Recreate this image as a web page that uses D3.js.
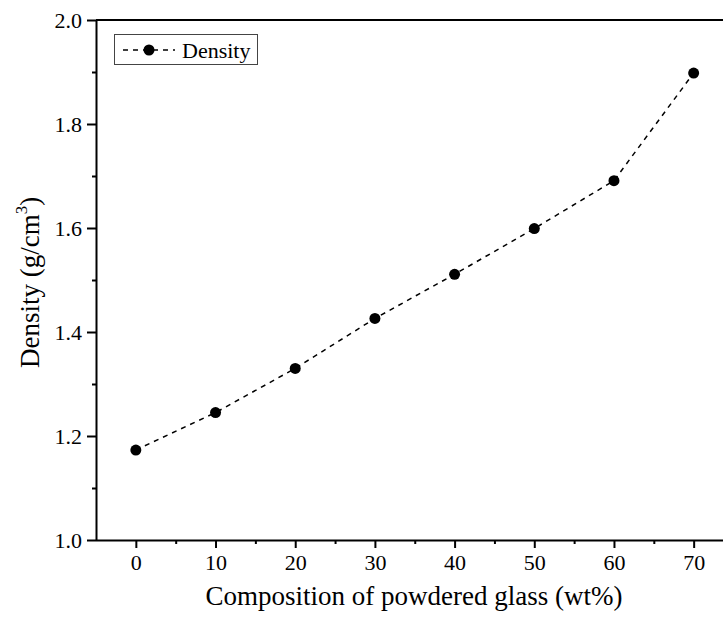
<!DOCTYPE html>
<html>
<head>
<meta charset="utf-8">
<script src="https://cdn.jsdelivr.net/npm/d3@7"></script>
<style>
  html, body { margin: 0; padding: 0; background: #fff; }
  svg, svg text { font-family: "Liberation Serif", Tinos, "Times New Roman", Times, "DejaVu Serif", serif !important; }
</style>
</head>
<body>
<svg id="chart" width="723" height="624"></svg>
<script>
// ---- data ----
const composition = [0, 10, 20, 30, 40, 50, 60, 70];
const density = [1.173, 1.245, 1.330, 1.426, 1.511, 1.599, 1.691, 1.898];
const xMajorTicks = [0, 10, 20, 30, 40, 50, 60, 70];
const xMinorTicks = [5, 15, 25, 35, 45, 55, 65];
const yMajorTicks = [1.0, 1.2, 1.4, 1.6, 1.8, 2.0];
const yMinorTicks = [1.1, 1.3, 1.5, 1.7, 1.9];
const xTitle = "Composition of powdered glass (wt%)";
const yTitle = "Density (g/cm";
const legendLabel = "Density";

const FONT = '"Liberation Serif", Tinos, "Times New Roman", Times, "DejaVu Serif", serif';
const svg = d3.select("#chart").attr("font-family", FONT);
const W = 723, H = 624;
const mLeft = 96, mTop = 20, mBottom = 540;

const x = d3.scaleLinear().domain([-5, 75]).range([mLeft, 733.5]);
const y = d3.scaleLinear().domain([1.0, 2.0]).range([mBottom, mTop]);

// frame top line
svg.append("line")
  .attr("x1", mLeft).attr("x2", W).attr("y1", mTop).attr("y2", mTop)
  .attr("stroke", "#000").attr("stroke-width", 2);

// x axis
const gx = svg.append("g").attr("transform", `translate(0,${mBottom})`);
gx.call(d3.axisBottom(x).tickValues(xMajorTicks).tickSize(8).tickPadding(6).tickFormat(d3.format("d")));
const gxm = svg.append("g").attr("transform", `translate(0,${mBottom})`);
gxm.call(d3.axisBottom(x).tickValues(xMinorTicks).tickSize(4).tickFormat(""));

// y axis
const gy = svg.append("g").attr("transform", `translate(${mLeft},0)`);
gy.call(d3.axisLeft(y).tickValues(yMajorTicks).tickSize(9).tickPadding(5).tickFormat(d3.format(".1f")));
const gym = svg.append("g").attr("transform", `translate(${mLeft},0)`);
gym.call(d3.axisLeft(y).tickValues(yMinorTicks).tickSize(4).tickFormat(""));

svg.selectAll("g").attr("font-family", FONT).attr("font-size", 22);
svg.selectAll(".domain").attr("stroke", "#000").attr("stroke-width", 2);
svg.selectAll(".tick line").attr("stroke", "#000").attr("stroke-width", 2);
svg.selectAll(".tick text")
  .attr("fill", "#000")
  .attr("font-family", FONT)
  .attr("font-size", 22);
// extend x domain line to the right edge
gx.select(".domain").attr("d", `M${mLeft},0.5H${W}`);
gxm.select(".domain").remove();
gym.select(".domain").remove();
gy.select(".domain").attr("d", `M0.5,${mBottom}V${mTop}`);

// data line
const line = d3.line().x((d, i) => x(composition[i])).y(d => y(d));
svg.append("path")
  .datum(density)
  .attr("d", line)
  .attr("fill", "none")
  .attr("stroke", "#000")
  .attr("stroke-width", 1.5)
  .attr("stroke-dasharray", "5,5");

svg.selectAll("circle.pt")
  .data(density)
  .enter().append("circle")
  .attr("class", "pt")
  .attr("cx", (d, i) => x(composition[i]))
  .attr("cy", d => y(d))
  .attr("r", 5.5)
  .attr("fill", "#000");

// axis titles
svg.append("text")
  .attr("x", 414).attr("y", 605)
  .attr("text-anchor", "middle")
  .attr("font-family", FONT)
  .attr("font-size", 27)
  .text(xTitle);

const yt = svg.append("text")
  .attr("transform", "translate(39,368) rotate(-90)")
  .attr("text-anchor", "start")
  .attr("font-family", FONT)
  .attr("font-size", 27);
yt.append("tspan").text(yTitle);
yt.append("tspan").attr("dy", -12).attr("font-size", 17).text("3");
yt.append("tspan").attr("dy", 12).text(")");

// legend
const lg = svg.append("g");
lg.append("rect")
  .attr("x", 114.5).attr("y", 34.5).attr("width", 143).attr("height", 30)
  .attr("fill", "#fff").attr("stroke", "#444").attr("stroke-width", 1);
lg.append("line")
  .attr("x1", 123).attr("x2", 175).attr("y1", 50).attr("y2", 50)
  .attr("stroke", "#000").attr("stroke-width", 1.5).attr("stroke-dasharray", "5,5");
lg.append("circle").attr("cx", 149).attr("cy", 50).attr("r", 5.5).attr("fill", "#000");
lg.append("text")
  .attr("x", 182).attr("y", 58)
  .attr("font-family", FONT)
  .attr("font-size", 22)
  .text(legendLabel);
</script>
</body>
</html>
